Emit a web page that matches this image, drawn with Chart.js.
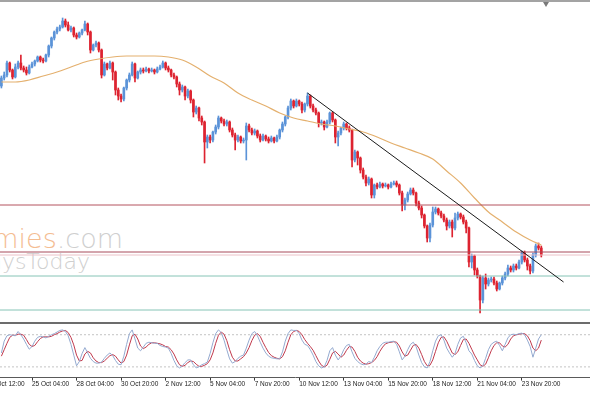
<!DOCTYPE html>
<html>
<head>
<meta charset="utf-8">
<script src="https://cdn.jsdelivr.net/npm/chart.js@4.4.1/dist/chart.umd.min.js"></script>
<style>
  html, body { margin: 0; padding: 0; background: #fff; }
  #wrap { position: relative; width: 590px; height: 393px; overflow: hidden; background: #fff; }
  .box { position: absolute; left: 0; width: 590px; }
  #main { top: 0; height: 320px; }
  #osc { top: 324px; height: 69px; }
  .wm { position: absolute; white-space: nowrap; font-family: "DejaVu Sans", sans-serif; font-weight: 200; }
  #topline { position: absolute; left: 0; top: 0; width: 590px; height: 2px; background: #a3a3a3; }
  #sep { position: absolute; left: 0; top: 322px; width: 590px; height: 2px; background: #6c6c6c; }
  #shift { position: absolute; left: 543px; top: 2px; width: 0; height: 0;
           border-left: 3px solid transparent; border-right: 3px solid transparent; border-top: 5px solid #7a7a7a; }
</style>
</head>
<body>
<div id="wrap">
  <div class="wm" style="right:467px; top:225px; font-size:27px; line-height:27px;"><span style="color:#f4bd92">Economies</span><span style="color:#cfcfcf">.com</span></div>
  <div class="wm" style="right:500px; top:251px; font-size:22px; line-height:22px; color:#cfcfcf;">EconomysToday</div>
  <div class="box" id="main"><canvas id="c1" width="590" height="320"></canvas></div>
  <div class="box" id="osc"><canvas id="c2" width="590" height="69"></canvas></div>
  <div id="topline"></div>
  <div id="sep"></div>
  <div id="shift"></div>
</div>
<script>
// time axis labels (one every 16 bars, H4)
const tickIdx = [-5, 11, 27, 43, 59, 75, 91, 107, 123, 139, 155, 171, 187];
const tickText = ["23 Oct 12:00", "25 Oct 04:00", "28 Oct 04:00", "30 Oct 20:00", "2 Nov 12:00",
  "5 Nov 04:00", "7 Nov 20:00", "10 Nov 12:00", "13 Nov 04:00", "15 Nov 20:00",
  "18 Nov 12:00", "21 Nov 04:00", "23 Nov 20:00"];

// candles
const opens = [
  111.14,111.22,111.25,111.37,111.30,111.23,111.33,111.37,111.32,111.30,
  111.27,111.33,111.36,111.39,111.43,111.40,111.39,111.45,111.54,111.62,
  111.68,111.71,111.73,111.79,111.75,111.70,111.72,111.65,111.63,111.67,
  111.70,111.76,111.68,111.50,111.55,111.57,111.50,111.25,111.36,111.32,
  111.37,111.28,111.10,111.04,111.01,111.12,111.20,111.25,111.36,111.22,
  111.28,111.30,111.29,111.31,111.29,111.30,111.28,111.31,111.33,111.37,
  111.32,111.30,111.25,111.23,111.16,111.10,111.13,111.04,111.09,111.00,
  110.88,110.92,110.82,110.78,110.58,110.63,110.60,110.68,110.73,110.82,
  110.79,110.76,110.78,110.70,110.65,110.60,110.63,110.59,110.60,110.74,
  110.70,110.67,110.69,110.64,110.60,110.64,110.61,110.59,110.62,110.59,
  110.63,110.70,110.76,110.83,110.92,110.99,110.94,110.99,110.96,110.90,
  110.96,111.04,110.94,110.90,110.87,110.77,110.78,110.73,110.78,110.87,
  110.80,110.63,110.67,110.72,110.76,110.72,110.70,110.40,110.48,110.42,
  110.30,110.23,110.17,110.21,110.05,110.15,110.13,110.16,110.14,110.15,
  110.13,110.16,110.17,110.15,110.07,109.95,110.00,110.06,110.10,110.07,
  109.97,109.92,109.85,109.74,109.62,109.75,109.88,109.91,109.87,109.84,
  109.80,109.74,109.78,109.72,109.82,109.86,109.83,109.78,109.72,109.38,
  109.44,109.30,109.24,109.00,109.22,109.16,109.20,109.21,109.17,109.11,
  109.17,109.22,109.26,109.32,109.30,109.34,109.32,109.38,109.47,109.40,
  109.34,109.29,109.45,109.54,109.52
];
const closes = [
  111.22,111.25,111.37,111.30,111.23,111.33,111.37,111.32,111.30,111.27,
  111.33,111.36,111.39,111.43,111.40,111.39,111.45,111.54,111.62,111.68,
  111.71,111.73,111.79,111.75,111.70,111.72,111.65,111.63,111.67,111.70,
  111.76,111.68,111.50,111.55,111.57,111.50,111.25,111.36,111.32,111.37,
  111.28,111.10,111.04,111.01,111.12,111.20,111.25,111.36,111.22,111.28,
  111.30,111.29,111.31,111.29,111.30,111.28,111.31,111.33,111.37,111.32,
  111.30,111.25,111.23,111.16,111.10,111.13,111.04,111.09,111.00,110.88,
  110.92,110.82,110.78,110.58,110.63,110.60,110.68,110.73,110.82,110.79,
  110.76,110.78,110.70,110.65,110.60,110.63,110.59,110.60,110.74,110.70,
  110.67,110.69,110.64,110.60,110.64,110.61,110.59,110.62,110.59,110.63,
  110.70,110.76,110.83,110.92,110.99,110.94,110.99,110.96,110.90,110.96,
  111.04,110.94,110.90,110.87,110.77,110.78,110.73,110.78,110.87,110.80,
  110.63,110.67,110.72,110.76,110.72,110.70,110.40,110.48,110.42,110.30,
  110.23,110.17,110.21,110.05,110.15,110.13,110.16,110.14,110.15,110.13,
  110.16,110.17,110.15,110.07,109.95,110.00,110.06,110.10,110.07,109.97,
  109.92,109.85,109.74,109.62,109.75,109.88,109.91,109.87,109.84,109.80,
  109.74,109.78,109.72,109.82,109.86,109.83,109.78,109.72,109.38,109.44,
  109.30,109.24,109.00,109.22,109.16,109.20,109.21,109.17,109.11,109.17,
  109.22,109.26,109.32,109.30,109.34,109.32,109.38,109.47,109.40,109.34,
  109.29,109.45,109.54,109.52,109.45
];
const highs = [
  111.24,111.28,111.39,111.38,111.31,111.36,111.39,111.45,111.34,111.33,
  111.35,111.38,111.40,111.44,111.44,111.42,111.46,111.55,111.63,111.69,
  111.73,111.75,111.82,111.81,111.78,111.74,111.73,111.67,111.68,111.71,
  111.79,111.77,111.69,111.56,111.59,111.58,111.51,111.38,111.37,111.39,
  111.38,111.29,111.12,111.06,111.13,111.21,111.27,111.38,111.37,111.29,
  111.32,111.32,111.33,111.32,111.32,111.31,111.33,111.35,111.39,111.38,
  111.34,111.31,111.27,111.24,111.18,111.15,111.14,111.11,111.10,111.01,
  110.94,110.93,110.84,110.79,110.65,110.65,110.69,110.75,110.84,110.83,
  110.81,110.80,110.79,110.72,110.67,110.65,110.64,110.62,110.77,110.76,
  110.72,110.71,110.70,110.66,110.66,110.65,110.63,110.64,110.63,110.65,
  110.71,110.78,110.84,110.94,111.01,111.00,111.01,111.00,110.98,110.97,
  111.07,111.05,110.96,110.92,110.88,110.80,110.79,110.80,110.88,110.88,
  110.81,110.69,110.73,110.78,110.77,110.74,110.71,110.50,110.49,110.43,
  110.32,110.25,110.23,110.22,110.16,110.17,110.18,110.17,110.17,110.16,
  110.18,110.19,110.19,110.16,110.09,110.02,110.08,110.12,110.12,110.08,
  109.99,109.94,109.86,109.75,109.77,109.93,109.93,109.92,109.89,109.86,
  109.82,109.80,109.80,109.87,109.88,109.87,109.85,109.80,109.73,109.46,
  109.45,109.32,109.25,109.24,109.26,109.22,109.23,109.23,109.19,109.18,
  109.24,109.28,109.35,109.34,109.36,109.36,109.40,109.49,109.49,109.42,
  109.36,109.47,109.56,109.57,109.54
];
const lows = [
  111.12,111.20,111.23,111.28,111.21,111.22,111.31,111.30,111.28,111.25,
  111.26,111.32,111.34,111.38,111.38,111.37,111.38,111.43,111.52,111.60,
  111.66,111.69,111.72,111.73,111.69,111.68,111.63,111.61,111.62,111.65,
  111.69,111.65,111.47,111.49,111.53,111.48,111.22,111.24,111.30,111.31,
  111.20,111.05,111.00,110.98,110.99,111.10,111.18,111.24,111.18,111.21,
  111.26,111.27,111.28,111.27,111.28,111.26,111.27,111.30,111.32,111.30,
  111.28,111.23,111.21,111.13,111.05,111.08,111.00,111.02,110.97,110.83,
  110.86,110.79,110.75,110.37,110.52,110.57,110.58,110.66,110.71,110.77,
  110.74,110.74,110.68,110.63,110.50,110.58,110.57,110.57,110.40,110.68,
  110.65,110.65,110.62,110.58,110.59,110.59,110.57,110.58,110.57,110.58,
  110.61,110.68,110.74,110.81,110.90,110.92,110.93,110.94,110.87,110.88,
  110.94,110.92,110.88,110.85,110.73,110.75,110.70,110.72,110.76,110.78,
  110.57,110.54,110.65,110.70,110.70,110.68,110.33,110.38,110.35,110.27,
  110.21,110.14,110.15,110.02,110.02,110.11,110.12,110.12,110.13,110.11,
  110.12,110.15,110.13,110.05,109.89,109.90,109.98,110.05,110.05,109.94,
  109.90,109.82,109.72,109.58,109.58,109.73,109.86,109.85,109.82,109.78,
  109.70,109.72,109.63,109.70,109.80,109.81,109.76,109.67,109.33,109.32,
  109.25,109.22,108.87,108.97,109.11,109.14,109.18,109.15,109.09,109.10,
  109.15,109.20,109.24,109.28,109.28,109.30,109.31,109.36,109.38,109.30,
  109.26,109.27,109.43,109.50,109.43
];

// moving average, read every 5 bars
const maIdx = [0,5,10,15,20,25,30,35,40,45,50,55,60,65,70,75,80,85,90,95,
  100,105,110,115,120,125,130,135,140,145,150,155,160,165,170,175,180,185,190,194];
const maVals = [111.18,111.18,111.20,111.24,111.28,111.33,111.38,111.41,111.43,111.44,
  111.44,111.44,111.43,111.40,111.33,111.24,111.17,111.07,111.00,110.94,
  110.87,110.82,110.79,110.76,110.74,110.71,110.68,110.63,110.57,110.52,
  110.47,110.41,110.29,110.17,110.02,109.88,109.78,109.68,109.60,109.55];

// drawn objects
const levels = [109.95, 109.48, 109.45, 109.24, 108.90];
const levelColors = ["#b4525e", "#a84a5a", "#ecc2c8", "#86c4b6", "#86c4b6"];
const trendIdx = [110, 202];
const trendVals = [111.07, 109.18];

// stochastic
const stochK = [
  46,68,78,80,79,78,86,80,72,62, 53,58,68,75,77,76,74,77,80,82,
  85,88,89,86,78,62,42,22,30,45, 56,46,36,30,27,27,29,36,42,46,
  41,32,25,24,40,62,82,89,72,55, 50,57,64,66,65,64,64,60,58,57,
  55,45,32,22,18,22,28,33,33,24, 18,20,24,26,29,45,65,82,89,84,
  70,52,35,27,30,36,40,42,55,70, 82,86,78,66,55,46,40,37,36,35,
  35,48,68,82,89,88,88,82,70,62, 60,52,42,30,22,18,20,32,50,56,
  42,33,40,52,60,62,48,36,30,26, 24,25,30,28,38,50,58,64,66,66,
  67,68,62,48,33,40,52,62,66,58, 42,28,20,18,30,50,68,78,80,70,
  55,46,38,45,62,74,77,65,50,44, 32,22,18,22,36,52,62,66,68,60,
  50,62,74,80,81,80,82,83,80,70, 58,38,55,72,80
];
const stochD = [
  40,52,64,75,79,79,81,81,79,71, 62,58,60,67,73,76,76,76,77,80,
  82,85,87,88,84,75,61,42,31,32, 44,49,46,37,31,28,28,31,36,41,
  43,40,33,27,30,42,61,78,81,72, 59,54,57,62,65,65,64,63,61,58,
  57,52,44,33,24,21,23,28,31,30, 25,21,21,23,26,33,46,64,79,85,
  81,69,52,38,31,31,35,39,46,56, 69,79,82,77,66,56,47,41,38,36,
  35,39,50,66,80,86,88,86,80,71, 64,58,51,41,31,23,20,23,34,46,
  49,44,38,42,51,58,57,49,38,31, 27,25,26,28,32,39,49,57,63,65,
  66,67,66,59,48,40,42,51,60,62, 55,43,30,22,23,33,49,65,75,76,
  68,57,46,43,48,60,71,72,64,53, 42,33,24,21,25,37,50,60,65,65,
  59,57,62,72,78,80,81,82,82,78, 69,55,50,55,70
];
const stochLevels = [80, 20];

const UP = "#5b93d8", DOWN = "#dd2330";
const X_MIN = -0.5, X_MAX = 211.5;

const idx = closes.map((_, i) => i);
const candleColors = closes.map((c, i) => c >= opens[i] ? UP : DOWN);
const hline = (v) => [{ x: X_MIN, y: v }, { x: X_MAX, y: v }];

const levelSets = levels.map((v, i) => ({
  type: "line", data: hline(v), borderColor: levelColors[i], borderWidth: 1,
  pointRadius: 0, order: 0
}));

new Chart(document.getElementById("c1"), {
  type: "bar",
  data: {
    datasets: [
      { type: "line", data: trendIdx.map((x, i) => ({ x, y: trendVals[i] })),
        borderColor: "#1a1a1a", borderWidth: 1, pointRadius: 0, order: 0 },
      ...levelSets,
      { type: "line", data: maIdx.map((x, i) => ({ x, y: maVals[i] })),
        borderColor: "#e4b06e", borderWidth: 1.2, pointRadius: 0,
        cubicInterpolationMode: "monotone", order: 0 },
      { data: idx.map(i => ({ x: i, y: [opens[i], closes[i]] })),
        backgroundColor: candleColors, barThickness: 2, minBarLength: 1,
        grouped: false, order: 1 },
      { data: idx.map(i => ({ x: i, y: [lows[i], highs[i]] })),
        backgroundColor: candleColors, barThickness: 1,
        grouped: false, order: 2 }
    ]
  },
  options: {
    responsive: false,
    animation: false,
    events: [],
    layout: { padding: { top: 3, bottom: 4, left: 0, right: 0 } },
    plugins: { legend: { display: false }, tooltip: { enabled: false } },
    scales: {
      x: { type: "linear", min: X_MIN, max: X_MAX, offset: false, display: false },
      y: { min: 108.84, max: 111.97, beginAtZero: false, display: false }
    }
  }
});

new Chart(document.getElementById("c2"), {
  type: "line",
  data: {
    datasets: [
      { data: idx.map(i => ({ x: i, y: stochK[i] })), borderColor: "#94aad0",
        borderWidth: 1, pointRadius: 0 },
      { data: idx.map(i => ({ x: i, y: stochD[i] })), borderColor: "#c0394c",
        borderWidth: 1, pointRadius: 0 },
      ...stochLevels.map(v => ({ data: hline(v), borderColor: "#c4c4c4",
        borderWidth: 1, borderDash: [2, 2], pointRadius: 0 }))
    ]
  },
  options: {
    responsive: false,
    animation: false,
    events: [],
    layout: { padding: { top: 0, bottom: 4.6, left: 0, right: 0 } },
    plugins: { legend: { display: false }, tooltip: { enabled: false } },
    scales: {
      x: {
        type: "linear", min: X_MIN, max: X_MAX, offset: false,
        afterBuildTicks: s => { s.ticks = tickIdx.map(v => ({ value: v })); },
        afterFit: s => { s.paddingLeft = 0; s.paddingRight = 0; },
        grid: { drawOnChartArea: false, drawTicks: true, tickLength: 3, color: "#3a3a3a" },
        border: { display: true, color: "#5a5a5a", width: 1 },
        ticks: {
          autoSkip: false, maxRotation: 0, align: "start", padding: 0,
          color: "#222", font: { family: "Liberation Sans", size: 6.5 },
          callback: v => tickText[tickIdx.indexOf(v)]
        }
      },
      y: { min: 0, max: 100, display: false }
    }
  }
});
</script>
</body>
</html>
